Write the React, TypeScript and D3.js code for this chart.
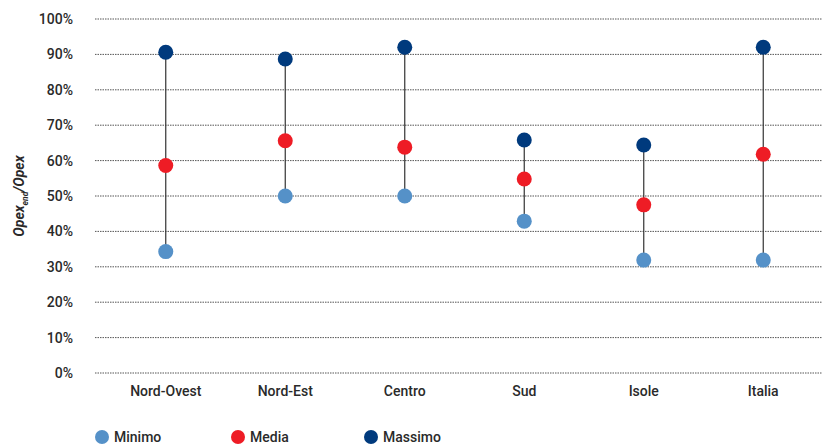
import React from "react";
import * as d3 from "d3";

const categories = ["Nord-Ovest", "Nord-Est", "Centro", "Sud", "Isole", "Italia"];
const minimo = [34.3, 50.0, 50.0, 42.9, 31.9, 31.9];
const media = [58.6, 65.6, 63.8, 54.8, 47.5, 61.8];
const massimo = [90.6, 88.7, 92.0, 65.8, 64.4, 92.0];
const yTicks = [0, 10, 20, 30, 40, 50, 60, 70, 80, 90, 100];
const seriesNames = ["Minimo", "Media", "Massimo"];
const seriesColors = ["#5591c8", "#ee1c25", "#003a7d"];

export default function App() {
  const W = 822, H = 448;
  const y = d3.scaleLinear().domain([0, 100]).range([373, 19]);
  const x = d3.scaleBand().domain(categories).range([106, 823]);
  const font = "Roboto, 'Liberation Sans', sans-serif";
  const series = [minimo, media, massimo];
  const legendX = [102, 238, 371];
  return (
    <svg width={W} height={H} style={{ position: "absolute", left: 0, top: 0 }} fontFamily={font}>
      {yTicks.map((t) => (
        <g key={t}>
          <line x1={95} x2={822} y1={y(t)} y2={y(t)} stroke="#555" strokeWidth={1} strokeDasharray="1.5,1" />
          <text x={73} y={y(t)} dy="0.35em" textAnchor="end" fontSize={14} fontWeight={500} fill="#2a2a2a">{t}%</text>
        </g>
      ))}
      <text transform={`translate(24,${y(50)}) rotate(-90)`} textAnchor="middle" fontSize={14} fontStyle="italic" fontWeight="bold" fill="#2a2a2a">
        Opex<tspan fontSize={8.5} dy={4}>end</tspan><tspan dy={-4}>/Opex</tspan>
      </text>
      {categories.map((c, i) => {
        const cx = x(c)! + x.bandwidth() / 2;
        return (
          <g key={c}>
            <line x1={cx} x2={cx} y1={y(minimo[i])} y2={y(massimo[i])} stroke="#333" strokeWidth={1.2} />
            {series.map((s, j) => (
              <circle key={j} cx={cx} cy={y(s[i])} r={7.5} fill={seriesColors[j]} />
            ))}
            <text x={cx} y={391} dy="0.35em" textAnchor="middle" fontSize={14} fontWeight={500} fill="#2a2a2a">{c}</text>
          </g>
        );
      })}
      {seriesNames.map((n, j) => (
        <g key={n}>
          <circle cx={legendX[j]} cy={437} r={7} fill={seriesColors[j]} />
          <text x={legendX[j] + 12} y={437} dy="0.35em" fontSize={14} fontWeight={500} fill="#2a2a2a">{n}</text>
        </g>
      ))}
    </svg>
  );
}
